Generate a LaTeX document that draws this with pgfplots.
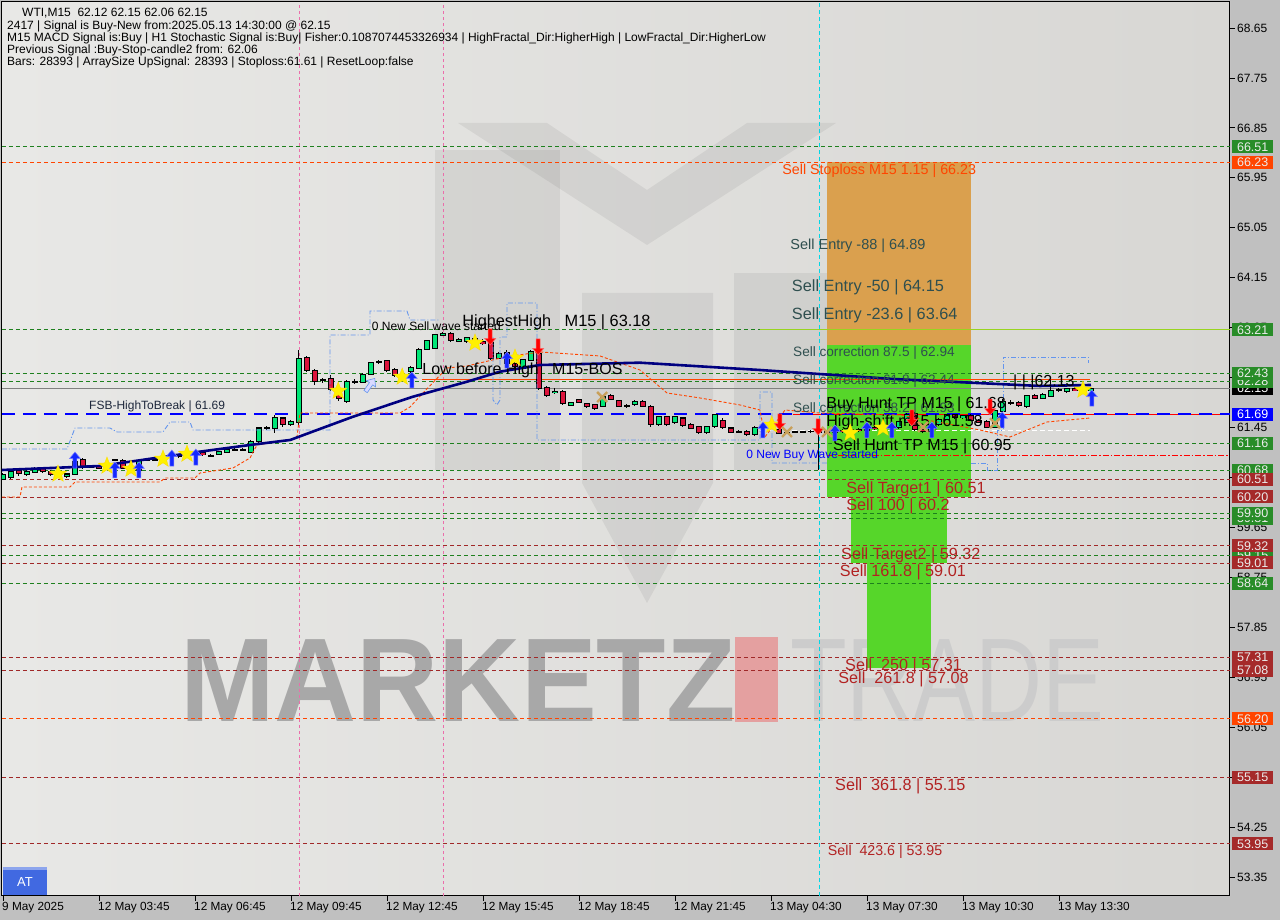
\documentclass[border=0pt]{standalone}
\usepackage{fontspec}
\setmainfont{Liberation Sans}
\usepackage{pgfplots}
\usepackage{pgfplotstable}
\pgfplotsset{compat=1.18}

\definecolor{bgout}{RGB}{192,192,192}
\definecolor{plotL}{RGB}{232,232,230}
\definecolor{plotR}{RGB}{216,215,212}
\definecolor{lvgreen}{RGB}{30,128,30}
\definecolor{lvbrown}{RGB}{160,40,40}
\definecolor{lvorange}{RGB}{255,69,0}
\definecolor{taggreen}{RGB}{40,140,40}
\definecolor{tagbrown}{RGB}{165,42,42}
\definecolor{bull}{RGB}{0,230,118}
\definecolor{bear}{RGB}{220,20,60}
\definecolor{navyma}{RGB}{0,0,128}
\definecolor{zoneorange}{RGB}{218,160,78}
\definecolor{zonegreen}{RGB}{86,214,42}
\definecolor{slate}{RGB}{47,79,79}
\definecolor{firebr}{RGB}{178,34,34}
\definecolor{bandblue}{RGB}{100,149,237}
\definecolor{tanx}{RGB}{200,160,90}
\definecolor{starY}{RGB}{255,240,0}
\definecolor{arrowblue}{RGB}{20,40,255}
\definecolor{wmgray}{RGB}{168,168,168}
\definecolor{wmlight}{RGB}{204,204,204}
\definecolor{wmpink}{RGB}{228,160,160}
\definecolor{atblue}{RGB}{65,105,225}
\definecolor{fsbtext}{RGB}{30,40,60}
\definecolor{vpink}{RGB}{235,110,170}
\definecolor{vcyan}{RGB}{0,215,230}

\newcommand{\fs}[1]{\fontsize{#1}{#1}\selectfont}
\tikzset{
 gd/.style={lvgreen, dash pattern=on 4pt off 3pt, line width=0.8pt},
 bd/.style={lvbrown, dash pattern=on 4pt off 3pt, line width=0.8pt},
 od/.style={lvorange, dash pattern=on 4pt off 3pt, line width=0.8pt},
}

\pgfdeclareplotmark{uparr}{%
 \pgfpathmoveto{\pgfqpoint{0pt}{8pt}}%
 \pgfpathlineto{\pgfqpoint{5.5pt}{1.5pt}}%
 \pgfpathlineto{\pgfqpoint{2pt}{1.5pt}}%
 \pgfpathlineto{\pgfqpoint{2pt}{-8pt}}%
 \pgfpathlineto{\pgfqpoint{-2pt}{-8pt}}%
 \pgfpathlineto{\pgfqpoint{-2pt}{1.5pt}}%
 \pgfpathlineto{\pgfqpoint{-5.5pt}{1.5pt}}%
 \pgfpathclose\pgfusepathqfillstroke}
\pgfdeclareplotmark{dnarr}{%
 \pgfpathmoveto{\pgfqpoint{0pt}{-8pt}}%
 \pgfpathlineto{\pgfqpoint{5.5pt}{-1.5pt}}%
 \pgfpathlineto{\pgfqpoint{2pt}{-1.5pt}}%
 \pgfpathlineto{\pgfqpoint{2pt}{8pt}}%
 \pgfpathlineto{\pgfqpoint{-2pt}{8pt}}%
 \pgfpathlineto{\pgfqpoint{-2pt}{-1.5pt}}%
 \pgfpathlineto{\pgfqpoint{-5.5pt}{-1.5pt}}%
 \pgfpathclose\pgfusepathqfillstroke}
\pgfdeclareplotmark{fstar}{%
 \pgfpathmoveto{\pgfqpoint{0pt}{9pt}}%
 \pgfpathlineto{\pgfqpoint{-2.234pt}{3.074pt}}%
 \pgfpathlineto{\pgfqpoint{-8.56pt}{2.781pt}}%
 \pgfpathlineto{\pgfqpoint{-3.614pt}{-1.174pt}}%
 \pgfpathlineto{\pgfqpoint{-5.29pt}{-7.281pt}}%
 \pgfpathlineto{\pgfqpoint{0pt}{-3.8pt}}%
 \pgfpathlineto{\pgfqpoint{5.29pt}{-7.281pt}}%
 \pgfpathlineto{\pgfqpoint{3.614pt}{-1.174pt}}%
 \pgfpathlineto{\pgfqpoint{8.56pt}{2.781pt}}%
 \pgfpathlineto{\pgfqpoint{2.234pt}{3.074pt}}%
 \pgfpathclose\pgfusepathqfillstroke}
\pgfdeclareplotmark{xmk}{%
 \pgfpathmoveto{\pgfqpoint{-5pt}{-5pt}}\pgfpathlineto{\pgfqpoint{5pt}{5pt}}%
 \pgfpathmoveto{\pgfqpoint{-5pt}{5pt}}\pgfpathlineto{\pgfqpoint{5pt}{-5pt}}%
 \pgfusepathqstroke}

\pgfplotstableread{
i o h l c
0 60.52 60.63 60.50 60.60
1 60.56 60.69 60.53 60.65
2 60.68 60.72 60.58 60.63
3 60.61 60.70 60.58 60.66
4 60.65 60.74 60.63 60.71
5 60.71 60.73 60.64 60.67
6 60.66 60.68 60.57 60.60
7 60.60 60.64 60.57 60.62
8 60.57 60.64 60.55 60.61
9 60.61 60.86 60.60 60.84
10 60.88 60.91 60.70 60.74
11 60.74 60.78 60.72 60.75
12 60.75 60.77 60.70 60.72
13 60.72 60.80 60.70 60.76
14 60.86 60.89 60.84 60.87
15 60.85 60.89 60.70 60.72
16 60.72 60.74 60.66 60.70
17 60.68 60.88 60.66 60.86
18 60.86 60.89 60.84 60.87
19 60.87 60.88 60.84 60.86
20 60.86 60.92 60.85 60.88
21 60.95 60.99 60.93 60.96
22 60.94 60.96 60.91 60.93
23 60.93 61.00 60.92 60.98
24 60.98 61.03 60.96 61.00
25 61.00 61.02 60.94 60.96
26 60.95 60.97 60.92 60.94
27 60.97 61.03 60.95 61.01
28 61.01 61.08 61.00 61.06
29 61.05 61.08 61.03 61.05
30 61.05 61.08 61.02 61.05
31 61.01 61.22 60.99 61.20
32 61.20 61.46 61.18 61.44
33 61.44 61.47 61.41 61.44
34 61.44 61.68 61.36 61.62
35 61.62 61.64 61.46 61.50
36 61.50 61.58 61.48 61.56
37 61.54 62.85 61.50 62.70
38 62.71 62.74 62.46 62.49
39 62.47 62.50 62.22 62.28
40 62.30 62.34 62.26 62.31
41 62.33 62.40 62.10 62.13
42 62.05 62.10 61.93 61.97
43 61.92 62.30 61.90 62.28
44 62.27 62.33 62.24 62.27
45 62.27 62.43 62.25 62.41
46 62.41 62.64 62.39 62.62
47 62.63 62.67 62.60 62.64
48 62.65 62.67 62.46 62.49
49 62.49 62.52 62.36 62.39
50 62.39 62.42 62.30 62.33
51 62.47 62.56 62.44 62.53
52 62.52 62.88 62.50 62.86
53 62.86 63.03 62.84 63.01
54 62.88 63.14 62.86 63.12
55 63.12 63.18 63.10 63.15
56 63.15 63.17 63.00 63.03
57 63.01 63.06 62.99 63.04
58 63.00 63.09 62.97 63.07
59 63.05 63.08 62.96 63.00
60 63.00 63.04 62.93 62.96
61 62.98 63.02 62.66 62.70
62 62.70 62.82 62.68 62.79
63 62.80 62.84 62.58 62.61
64 62.61 62.64 62.52 62.55
65 62.52 62.69 62.50 62.67
66 62.67 62.84 62.65 62.82
67 62.79 62.85 62.13 62.16
68 62.17 62.20 62.00 62.03
69 62.08 62.17 62.05 62.10
70 62.09 62.12 61.86 61.89
71 61.86 61.92 61.84 61.90
72 61.95 61.97 61.89 61.91
73 61.88 61.90 61.81 61.83
74 61.86 61.88 61.77 61.80
75 61.84 62.03 61.82 62.01
76 62.02 62.05 61.95 61.96
77 61.93 61.95 61.82 61.84
78 61.84 61.88 61.81 61.85
79 61.86 61.95 61.84 61.92
80 61.92 61.94 61.82 61.84
81 61.83 61.85 61.46 61.50
82 61.50 61.66 61.48 61.64
83 61.64 61.66 61.48 61.50
84 61.54 61.66 61.52 61.64
85 61.62 61.64 61.46 61.49
86 61.51 61.53 61.42 61.44
87 61.46 61.48 61.33 61.36
88 61.36 61.48 61.34 61.46
89 61.47 61.70 61.45 61.68
90 61.58 61.62 61.42 61.45
91 61.44 61.46 61.35 61.37
92 61.37 61.40 61.35 61.37
93 61.38 61.40 61.30 61.32
94 61.32 61.47 61.30 61.45
95 61.45 61.52 61.40 61.48
96 61.48 61.53 61.42 61.46
97 61.41 61.44 61.33 61.35
98 61.35 61.38 61.33 61.36
99 61.37 61.39 61.35 61.37
100 61.37 61.39 61.35 61.37
101 61.38 61.40 61.36 61.38
102 61.38 61.40 60.68 61.36
103 61.36 61.40 61.33 61.38
104 61.36 61.43 61.34 61.40
105 61.40 61.42 61.35 61.38
106 61.38 61.44 61.36 61.42
107 61.42 61.44 61.37 61.40
108 61.40 61.47 61.38 61.45
109 61.45 61.47 61.40 61.43
110 61.43 61.49 61.41 61.47
111 61.47 61.49 61.42 61.45
112 61.45 61.57 61.43 61.55
113 61.55 61.71 61.53 61.68
114 61.70 61.73 61.38 61.42
115 61.42 61.45 61.36 61.38
116 61.38 61.52 61.36 61.50
117 61.50 61.62 61.48 61.60
118 61.60 61.70 61.58 61.68
119 61.68 61.70 61.61 61.63
120 61.63 61.68 61.61 61.66
121 61.67 61.69 61.56 61.58
122 61.58 61.60 61.53 61.55
123 61.55 61.58 61.44 61.46
124 61.46 61.78 61.44 61.75
125 61.75 61.97 61.73 61.92
126 61.90 61.94 61.86 61.90
127 61.90 61.92 61.82 61.85
128 61.84 62.04 61.80 62.02
129 62.03 62.06 61.96 61.98
130 61.98 62.07 61.96 62.04
131 62.02 62.30 62.00 62.11
132 62.12 62.16 62.09 62.13
133 62.10 62.17 62.08 62.15
134 62.15 62.18 62.10 62.12
135 62.12 62.16 62.10 62.14
136 62.12 62.15 62.06 62.15
}\candles

\newcommand{\lvl}[3]{\addplot[#3, forget plot] coordinates {(#1,#2) (153.375,#2)};}
\newcommand{\ptag}[3][white!92!black]{\node[anchor=west, fill=#3, text=#1, inner sep=0pt, minimum width=41pt, minimum height=13pt, font=\fs{12.5}] at (1232,{892-(68.65-#2)*55.49}) {#2};}

\begin{document}
\begin{tikzpicture}[x=1pt,y=1pt]
\fill[bgout] (0,0) rectangle (1280,920);
\shade[left color=plotL, right color=plotR] (2,24) rectangle (1230,918);
% watermark logo (pixel y measured from top: tikz y = 920 - py)
\begin{scope}[black, opacity=0.06]
\fill (435,770) rectangle (560,450);
\fill (734,647) rectangle (860,450);
\fill (458,797) -- (547,797) -- (647,730) -- (747,797) -- (836,797) -- (647,675) -- cycle;
\fill (582,627) -- (713,627) -- (713,437) -- (647,317) -- (582,437) -- cycle;
\end{scope}
\node[anchor=base west, inner sep=0pt, font=\fs{119}\bfseries, text=wmgray, xscale=0.955] at (180,198) {MARKETZ};
\fill[wmpink] (735,198) rectangle (778,283);
\node[anchor=base west, inner sep=0pt, font=\fs{119}, text=wmlight, xscale=0.78] at (790,198) {TRADE};

\begin{axis}[
 at={(2pt,24pt)}, anchor=south west,
 scale only axis, width=1228pt, height=894pt,
 xmin=-0.125, xmax=153.375, ymin=53.008, ymax=69.119,
 axis line style={black, line width=1pt},
 xtick pos=bottom, ytick pos=right, yticklabel pos=right,
 tick align=outside, major tick length=5pt,
 every tick/.style={black, line width=0.8pt},
 xtick={0,12,24,36,48,60,72,84,96,108,120,132},
 xticklabels={9 May 2025,12 May 03:45,12 May 06:45,12 May 09:45,12 May 12:45,12 May 15:45,12 May 18:45,12 May 21:45,13 May 04:30,13 May 07:30,13 May 10:30,13 May 13:30},
 ytick={53.35,54.25,55.15,56.05,56.95,57.85,58.75,59.65,60.55,61.45,62.35,63.25,64.15,65.05,65.95,66.85,67.75,68.65},
 yticklabels={53.35,54.25,55.15,56.05,56.95,57.85,58.75,59.65,60.55,61.45,62.35,63.25,64.15,65.05,65.95,66.85,67.75,68.65},
 xticklabel style={font=\fs{11.8}, anchor=north west, inner sep=0pt, xshift=-1pt, yshift=-1pt},
 yticklabel style={font=\fs{12}, anchor=west, inner sep=0pt, xshift=2pt},
]
% zones
\addplot[fill=zoneorange, draw=none, forget plot] coordinates {(103,62.94) (121,62.94) (121,66.23) (103,66.23)} -- cycle;
\addplot[fill=zonegreen, draw=none, forget plot] coordinates {(103,60.20) (121,60.20) (121,62.94) (103,62.94)} -- cycle;
\addplot[fill=zonegreen, draw=none, forget plot] coordinates {(106,59.01) (118,59.01) (118,60.20) (106,60.20)} -- cycle;
\addplot[fill=zonegreen, draw=none, forget plot] coordinates {(108,57.12) (116,57.12) (116,59.01) (108,59.01)} -- cycle;
% vertical separators
\addplot[vpink, dash pattern=on 3pt off 3pt, line width=0.8pt, forget plot] coordinates {(37,53.008) (37,69.119)};
\addplot[vpink, dash pattern=on 3pt off 3pt, line width=0.8pt, forget plot] coordinates {(55,53.008) (55,69.119)};
\addplot[vcyan, dash pattern=on 4pt off 3pt, line width=0.8pt, forget plot] coordinates {(102,53.008) (102,69.119)};
% levels
\lvl{-0.125}{66.51}{gd}
\lvl{-0.125}{63.21}{gd}
\lvl{-0.125}{62.43}{gd}
\lvl{-0.125}{62.28}{gd}
\lvl{-0.125}{61.16}{gd}
\lvl{-0.125}{60.68}{gd}
\lvl{-0.125}{59.90}{gd}
\lvl{-0.125}{59.81}{gd}
\lvl{-0.125}{59.15}{gd}
\lvl{-0.125}{58.64}{gd}
\lvl{-0.125}{60.51}{bd}
\lvl{-0.125}{60.20}{bd}
\lvl{-0.125}{59.32}{bd}
\lvl{-0.125}{59.01}{bd}
\lvl{-0.125}{57.31}{bd}
\lvl{-0.125}{57.08}{bd}
\lvl{-0.125}{55.15}{bd}
\lvl{-0.125}{53.95}{bd}
\lvl{-0.125}{66.23}{od}
\lvl{-0.125}{56.20}{od}
\lvl{94.6}{63.21}{yellow!60!green, line width=0.8pt}
\lvl{-0.125}{62.15}{gray, line width=0.8pt}
\lvl{98.75}{61.68}{red, line width=0.8pt}
\lvl{103}{60.95}{red, dash pattern=on 6pt off 2pt on 1.5pt off 2pt, line width=0.9pt}
\addplot[lvorange, line width=0.8pt, forget plot] coordinates {(52.4,62.32) (135.9,62.32)};
\addplot[white, dash pattern=on 5pt off 3pt, line width=0.9pt, forget plot] coordinates {(94.6,61.39) (135.9,61.39)};
\lvl{-0.125}{61.69}{blue, dash pattern=on 13pt off 8pt, line width=1.6pt}
% candles: wicks
\addplot[draw=none, mark=none, forget plot, error bars/.cd, y dir=both, y explicit, error mark=none, error bar style={draw=black, solid, line width=1pt}] table[x=i, y expr={(\thisrow{h}+\thisrow{l})/2}, y error expr={(\thisrow{h}-\thisrow{l})/2}] {\candles};
% bodies outline
\addplot[draw=none, mark=none, forget plot, error bars/.cd, y dir=both, y explicit, error mark=none, error bar style={draw=black, solid, line width=5.5pt}] table[x=i, y expr={(\thisrow{o}+\thisrow{c})/2}, y error expr={abs(\thisrow{c}-\thisrow{o})/2+0.012}] {\candles};
% bull bodies
\addplot[draw=none, mark=none, forget plot, restrict y to domain=50:70, error bars/.cd, y dir=both, y explicit, error mark=none, error bar style={draw=bull, solid, line width=3.6pt}] table[x=i, y expr={\thisrow{c}>=\thisrow{o} ? (\thisrow{o}+\thisrow{c})/2 : 100}, y error expr={max(abs(\thisrow{c}-\thisrow{o})/2-0.007,0)}] {\candles};
% bear bodies
\addplot[draw=none, mark=none, forget plot, restrict y to domain=50:70, error bars/.cd, y dir=both, y explicit, error mark=none, error bar style={draw=bear, solid, line width=3.6pt}] table[x=i, y expr={\thisrow{c}<\thisrow{o} ? (\thisrow{o}+\thisrow{c})/2 : 100}, y error expr={max(abs(\thisrow{c}-\thisrow{o})/2-0.007,0)}] {\candles};
% bands
\addplot[bandblue, dash pattern=on 5pt off 2pt on 1pt off 2pt, line width=0.9pt, forget plot] coordinates {(-0.125,61.063) (8,61.063) (9,61.442) (13.375,61.442) (14.25,61.370) (20,61.370) (20.875,61.550) (23.375,61.550) (23.75,61.406) (40.875,61.406) (40.875,63.118) (45.875,63.118) (45.875,63.550) (50.5,63.550) (50.875,63.388) (54.625,63.388)};
\addplot[bandblue, dash pattern=on 5pt off 2pt on 1pt off 2pt, line width=0.9pt, forget plot] coordinates {(61.25,63.082) (61.25,61.947) (61.75,61.857) (62.125,61.947) (62.125,63.082) (63,63.082) (63,63.695) (66.75,63.695) (66.75,61.226) (94.625,61.226) (94.625,62.091) (96.125,62.091) (96.125,60.811) (103,60.811)};
\addplot[bandblue, dash pattern=on 5pt off 2pt on 1pt off 2pt, line width=0.9pt, forget plot] coordinates {(121,60.811) (123,60.811) (123,60.685) (124.25,60.685) (124.25,61.406) (125,61.406) (125,62.721) (135.625,62.721) (135.625,62.613)};
\addplot[lvorange, dash pattern=on 3pt off 2pt, line width=0.9pt, forget plot] coordinates {(-0.125,60.198) (2.125,60.198) (2.375,60.379) (8.375,60.379) (9,60.469) (19.625,60.469) (20.25,60.541) (24,60.541) (24.625,60.631) (28.75,60.721) (30.875,60.901) (31.75,61.136) (35.875,61.226) (36.75,61.280) (37.125,61.712) (49.625,61.712) (50.875,61.820) (52.5,62.073) (55.5,62.523) (58,62.559) (62.75,62.721) (67.125,62.812) (74.625,62.740) (79.625,62.487) (83,62.073) (87.125,61.983) (92.125,61.857) (94.625,61.766) (95.25,61.280) (97.75,61.766) (102.125,61.712) (112.125,61.676) (122.125,61.406) (125.875,61.280) (130.5,61.550) (135.875,61.622)};
% moving average
\addplot[navyma, line width=2.6pt, forget plot] coordinates {(-0.125,60.685) (12.1,60.757) (24.6,61.015) (30.9,61.136) (35.9,61.226) (39.6,61.424) (43.75,61.645) (51.25,62.006) (58,62.276) (62.1,62.456) (67.1,62.577) (79.6,62.619) (94.6,62.487) (111.25,62.325) (129.6,62.199) (136,62.217)};
% signal markers
\addplot[only marks, mark=fstar, mark options={fill=starY, draw=yellow!80!orange, line width=0.4pt}, forget plot] coordinates {(6.875,60.613) (13,60.757) (16,60.703) (20,60.883) (23,60.973) (41.9,62.109) (49.9,62.361) (59,62.974) (64,62.703) (96.1,61.496) (105.9,61.352) (110,61.442) (135,62.127)};
\addplot[only marks, mark=uparr, mark options={fill=arrowblue, draw=blue!50!white, line width=0.5pt}, forget plot] coordinates {(9,60.865) (14,60.685) (17,60.685) (21.1,60.901) (24.1,60.919) (51.1,62.307) (63,62.667) (95,61.406) (104,61.352) (108,61.406) (111.1,61.406) (116.1,61.406) (124.9,61.586) (136.1,61.982)};
\addplot[only marks, mark=uparr, mark options={fill=white!85!blue, draw=bandblue, line width=0.6pt, rotate=-35}, forget plot] coordinates {(45.9,62.217)};
\addplot[only marks, mark=dnarr, mark options={fill=red, draw=red!60!white, line width=0.5pt}, forget plot] coordinates {(60.9,63.082) (66.9,62.902) (97.1,61.550) (101.9,61.460) (113.6,61.622) (123.4,61.820)};
\addplot[only marks, mark=xmk, mark options={draw=tanx, line width=2.4pt}, forget plot] coordinates {(74.9,62.00) (98,61.37) (103,61.37) (115,61.46) (124,61.53)};
% labels
\node[anchor=north west, inner sep=0pt, font=\fs{14.3}, text=lvorange] at (axis cs:97.4,66.20) {Sell Stoploss M15 1.15 | 66.23};
\node[anchor=north west, inner sep=0pt, font=\fs{14.5}, text=slate] at (axis cs:98.4,64.86) {Sell Entry -88 | 64.89};
\node[anchor=north west, inner sep=0pt, font=\fs{16.3}, text=slate] at (axis cs:98.6,64.12) {Sell Entry -50 | 64.15};
\node[anchor=north west, inner sep=0pt, font=\fs{16.3}, text=slate] at (axis cs:98.6,63.61) {Sell Entry -23.6 | 63.64};
\node[anchor=north west, inner sep=0pt, font=\fs{13.6}, text=slate] at (axis cs:98.75,62.91) {Sell correction 87.5 | 62.94};
\node[anchor=north west, inner sep=0pt, font=\fs{13.6}, text=slate] at (axis cs:98.75,62.41) {Sell correction 61.8 | 62.44};
\node[anchor=north west, inner sep=0pt, font=\fs{13.6}, text=slate] at (axis cs:98.75,61.90) {Sell correction 38.2 | 61.93};
\node[anchor=south west, inner sep=0pt, font=\fs{16}, text=black] at (axis cs:102.9,61.72) {Buy Hunt TP M15 | 61.68};
\node[anchor=south west, inner sep=0pt, font=\fs{16}, text=black] at (axis cs:102.9,61.40) {High-shift m15 | 61.58};
\node[anchor=south west, inner sep=0pt, font=\fs{16}, text=black] at (axis cs:103.75,60.97) {Sell Hunt TP M15 | 60.95};
\node[anchor=south west, inner sep=0pt, font=\fs{12}, text=blue] at (axis cs:92.9,60.85) {0 New Buy Wave started};
\node[anchor=north west, inner sep=0pt, font=\fs{16.2}, text=firebr] at (axis cs:105.4,60.48) {Sell Target1 | 60.51};
\node[anchor=north west, inner sep=0pt, font=\fs{16.2}, text=firebr] at (axis cs:105.4,60.17) {Sell 100 | 60.2};
\node[anchor=north west, inner sep=0pt, font=\fs{16.2}, text=firebr] at (axis cs:104.75,59.29) {Sell Target2 | 59.32};
\node[anchor=north west, inner sep=0pt, font=\fs{16.2}, text=firebr] at (axis cs:104.6,58.98) {Sell 161.8 | 59.01};
\node[anchor=north west, inner sep=0pt, font=\fs{16.2}, text=firebr] at (axis cs:105.25,57.28) {Sell\ \ 250 | 57.31};
\node[anchor=north west, inner sep=0pt, font=\fs{16.2}, text=firebr] at (axis cs:104.4,57.05) {Sell\ \ 261.8 | 57.08};
\node[anchor=north west, inner sep=0pt, font=\fs{16.2}, text=firebr] at (axis cs:104,55.12) {Sell\ \ 361.8 | 55.15};
\node[anchor=north west, inner sep=0pt, font=\fs{14.2}, text=firebr] at (axis cs:103.1,53.92) {Sell\ \ 423.6 | 53.95};
\node[anchor=south west, inner sep=0pt, font=\fs{16.3}, text=black] at (axis cs:57.4,63.21) {HighestHigh\ \ \ M15 | 63.18};
\node[anchor=south west, inner sep=0pt, font=\fs{12}, text=black] at (axis cs:46.1,63.19) {0 New Sell wave started};
\node[anchor=south west, inner sep=0pt, font=\fs{16}, text=black] at (axis cs:52.4,62.34) {Low before High\ \ \ M15-BOS};
\node[anchor=south west, inner sep=0pt, font=\fs{12}, text=fsbtext] at (axis cs:10.75,61.72) {FSB-HighToBreak | 61.69};
\node[anchor=south west, inner sep=0pt, font=\fs{16}, text=black] at (axis cs:126.25,62.13) {| | |62.13};
\end{axis}
% price tags
\ptag[white]{62.15}{black}
\ptag{62.28}{taggreen}
\ptag{62.43}{taggreen}
\ptag{66.51}{taggreen}
\ptag{66.23}{lvorange}
\ptag{63.21}{taggreen}
\ptag[white]{61.69}{blue}
\ptag{61.16}{taggreen}
\ptag{60.68}{taggreen}
\ptag{60.51}{tagbrown}
\ptag{60.20}{tagbrown}
\ptag{59.81}{taggreen}
\ptag{59.90}{taggreen}
\ptag{59.15}{taggreen}
\ptag{59.32}{tagbrown}
\ptag{59.01}{tagbrown}
\ptag{58.64}{taggreen}
\ptag{57.31}{tagbrown}
\ptag{57.08}{tagbrown}
\ptag{56.20}{lvorange}
\ptag{55.15}{tagbrown}
\ptag{53.95}{tagbrown}
% header
\node[anchor=base west, inner sep=0pt, font=\fs{12}] at (22,903) {WTI,M15\ \ 62.12 62.15 62.06 62.15};
\node[anchor=base west, inner sep=0pt, font=\fs{12}] at (7,890.5) {2417 | Signal is Buy-New from:2025.05.13 14:30:00 @ 62.15};
\node[anchor=base west, inner sep=0pt, font=\fs{12}] at (7,878.5) {M15 MACD Signal is:Buy | H1 Stochastic Signal is:Buy| Fisher:0.1087074453326934 | HighFractal\_Dir:HigherHigh | LowFractal\_Dir:HigherLow};
\node[anchor=base west, inner sep=0pt, font=\fs{12}] at (7,866.5) {Previous Signal :Buy-Stop-candle2 from: 62.06};
\node[anchor=base west, inner sep=0pt, font=\fs{12}] at (7,854.5) {Bars: 28393 | ArraySize UpSignal: 28393 | Stoploss:61.61 | ResetLoop:false};
% AT button
\fill[atblue] (3,25) rectangle (47,53);
\fill[atblue!60!white] (3,50) rectangle (47,53);
\node[text=white, font=\fs{13}] at (25,38) {AT};
\pgfresetboundingbox
\path[use as bounding box] (0,0) rectangle (1280,920);
\end{tikzpicture}
\end{document}
